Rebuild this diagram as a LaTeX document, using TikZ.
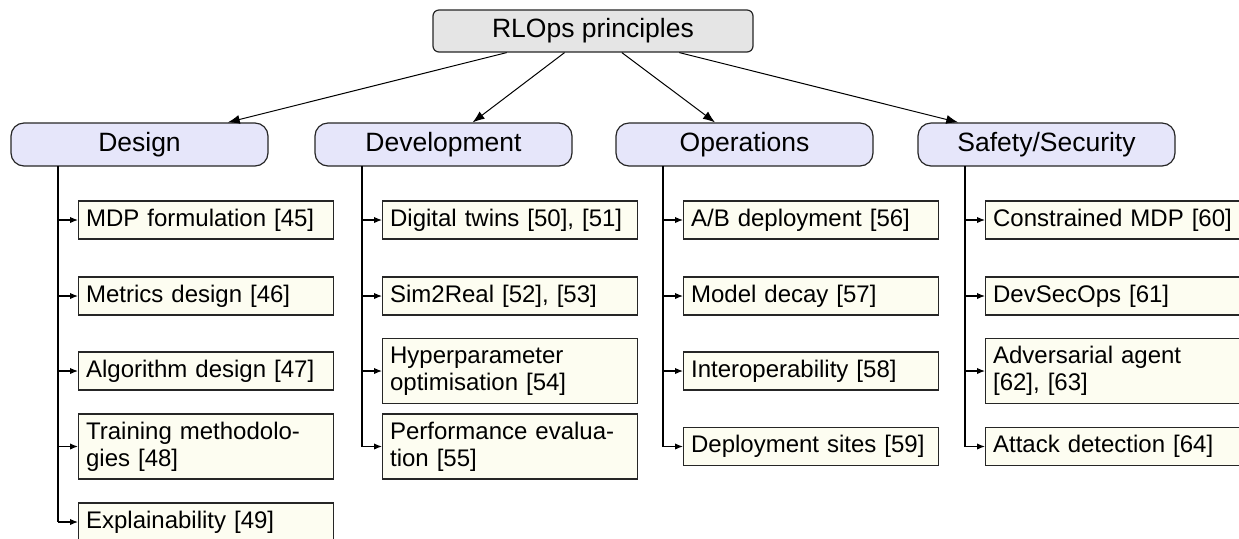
\documentclass[tikz,border=0pt]{standalone}
\usepackage{fontspec}
\setmainfont{Liberation Sans}
\usetikzlibrary{arrows.meta}
\definecolor{rootfill}{HTML}{E5E5E5}
\definecolor{catfill}{HTML}{E6E6FA}
\definecolor{leaffill}{HTML}{FDFDF1}
\tikzset{
  rootbox/.style={draw=black!85, fill=rootfill, rounded corners=3pt, line width=0.6pt,
    minimum width=160pt, minimum height=21pt, inner sep=0pt,
    font=\fontsize{13.25}{15}\selectfont},
  catbox/.style={draw=black!85, fill=catfill, rounded corners=6.5pt, line width=0.6pt,
    minimum width=128.5pt, minimum height=21.5pt, inner sep=0pt,
    font=\fontsize{13.25}{15}\selectfont},
  leafbox/.style={draw=black!85, fill=leaffill, line width=0.6pt, anchor=west,
    text width=120pt, inner xsep=3.75pt, inner ysep=2pt, align=left,
    minimum height=19pt, font=\fontsize{12}{13.5}\selectfont},
  leaftwo/.style={leafbox, minimum height=32.5pt},
  toparrow/.style={line width=0.5pt, -{Latex[length=6pt,width=4.5pt]}},
  conn/.style={line width=0.6pt, -{Latex[length=4pt,width=3.2pt]}},
  trunkline/.style={line width=0.6pt},
}
\begin{document}
\begin{tikzpicture}[x=0.5pt, y=-0.5pt]
\useasboundingbox (0,0) rectangle (1239,538);

\node[rootbox] (root) at (593,31) {RLOps principles};

\node[catbox] (design) at (139.5,144.5) {Design};
\node[catbox] (devel) at (443.5,144.5) {Development};
\node[catbox] (ops) at (744.5,144.5) {Operations};
\node[catbox] (safe) at (1046.5,144.5) {Safety/Security};

\foreach \c in {design,devel,ops,safe} \draw[toparrow] (root) -- (\c);

% trunk start points
\coordinate (tD) at (58,166);
\coordinate (tV) at (362,166);
\coordinate (tO) at (663,166);
\coordinate (tS) at (965,166);

% Design leaves
\node[leafbox] (d1) at (78,220) {MDP formulation [45]};
\node[leafbox] (d2) at (78,296) {Metrics design [46]};
\node[leafbox] (d3) at (78,371) {Algorithm design [47]};
\node[leaftwo] (d4) at (78,446.5) {Training methodolo-\\gies [48]};
\node[leafbox] (d5) at (78,522) {Explainability [49]};

% Development leaves
\node[leafbox] (v1) at (382,220) {Digital twins [50], [51]};
\node[leafbox] (v2) at (382,296) {Sim2Real [52], [53]};
\node[leaftwo] (v3) at (382,371) {Hyperparameter\\optimisation [54]};
\node[leaftwo] (v4) at (382,446.5) {Performance evalua-\\tion [55]};

% Operations leaves
\node[leafbox] (o1) at (683,220) {A/B deployment [56]};
\node[leafbox] (o2) at (683,296) {Model decay [57]};
\node[leafbox] (o3) at (683,371) {Interoperability [58]};
\node[leafbox] (o4) at (683,446.5) {Deployment sites [59]};

% Safety leaves
\node[leafbox] (s1) at (985,220) {\mbox{Constrained MDP [60]}};
\node[leafbox] (s2) at (985,296) {DevSecOps [61]};
\node[leaftwo] (s3) at (985,371) {Adversarial agent\\{[62]}, [63]};
\node[leafbox] (s4) at (985,446.5) {Attack detection [64]};

% trunks
\draw[trunkline] (tD) -- (tD |- d5.west);
\draw[trunkline] (tV) -- (tV |- v4.west);
\draw[trunkline] (tO) -- (tO |- o4.west);
\draw[trunkline] (tS) -- (tS |- s4.west);

\foreach \n in {d1,d2,d3,d4,d5} \draw[conn] (tD |- \n.west) -- (\n.west);
\foreach \n in {v1,v2,v3,v4} \draw[conn] (tV |- \n.west) -- (\n.west);
\foreach \n in {o1,o2,o3,o4} \draw[conn] (tO |- \n.west) -- (\n.west);
\foreach \n in {s1,s2,s3,s4} \draw[conn] (tS |- \n.west) -- (\n.west);
\end{tikzpicture}
\end{document}
